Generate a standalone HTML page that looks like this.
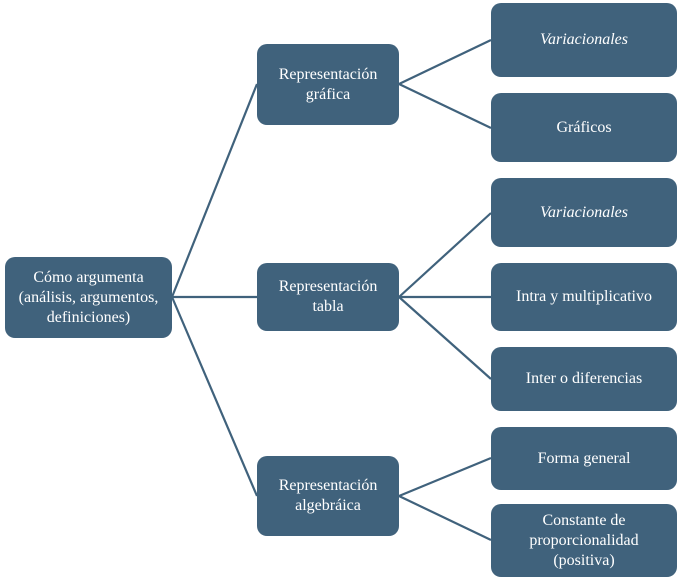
<!DOCTYPE html>
<html><head><style>
body{margin:0;width:680px;height:584px;background:#fff;position:relative;overflow:hidden;font-family:"Liberation Serif",serif;}
.b{position:absolute;background:#40627c;border-radius:10px;color:#fff;display:flex;align-items:center;justify-content:center;text-align:center;font-size:16px;line-height:20px;}
svg{position:absolute;left:0;top:0}
</style></head><body>
<svg width="680" height="584"><g stroke="#40627c" stroke-width="2.2" fill="none">
<line x1="172" y1="297" x2="257" y2="84"/>
<line x1="172" y1="297" x2="257" y2="297"/>
<line x1="172" y1="297" x2="257" y2="496"/>
<line x1="399" y1="84" x2="491" y2="40"/>
<line x1="399" y1="84" x2="491" y2="128"/>
<line x1="399" y1="297" x2="491" y2="213"/>
<line x1="399" y1="297" x2="491" y2="297"/>
<line x1="399" y1="297" x2="491" y2="379"/>
<line x1="399" y1="496" x2="491" y2="458"/>
<line x1="399" y1="496" x2="491" y2="540"/>
</g></svg>
<div class="b" style="left:5px;top:257px;width:167px;height:81px">Cómo argumenta<br>(análisis, argumentos,<br>definiciones)</div>
<div class="b" style="left:257px;top:44px;width:142px;height:81px">Representación<br>gráfica</div>
<div class="b" style="left:257px;top:263px;width:142px;height:68px">Representación<br>tabla</div>
<div class="b" style="left:257px;top:456px;width:142px;height:80px">Representación<br>algebráica</div>
<div class="b" style="left:491px;top:3px;width:186px;height:74px"><i>Variacionales</i></div>
<div class="b" style="left:491px;top:93px;width:186px;height:69px">Gráficos</div>
<div class="b" style="left:491px;top:178px;width:186px;height:69px"><i>Variacionales</i></div>
<div class="b" style="left:491px;top:263px;width:186px;height:68px">Intra y multiplicativo</div>
<div class="b" style="left:491px;top:347px;width:186px;height:64px">Inter o diferencias</div>
<div class="b" style="left:491px;top:427px;width:186px;height:63px">Forma general</div>
<div class="b" style="left:491px;top:504px;width:186px;height:73px">Constante de<br>proporcionalidad<br>(positiva)</div>
</body></html>
